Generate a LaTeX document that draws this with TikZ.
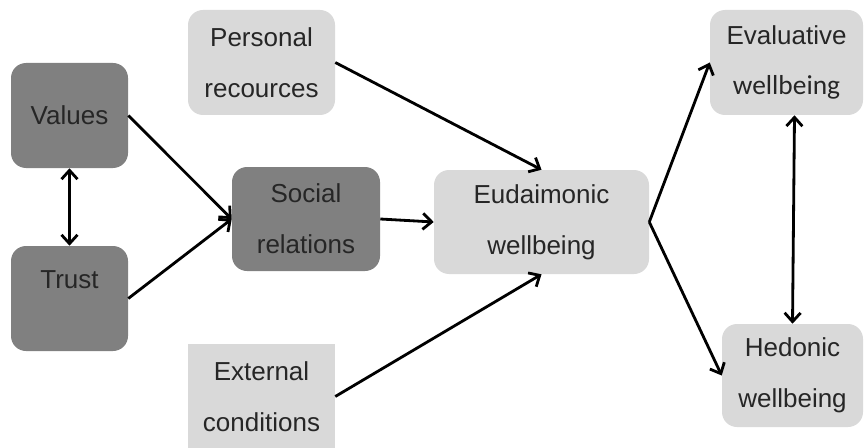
\documentclass[tikz,border=0pt]{standalone}
\usepackage{fontspec}
\setmainfont{Liberation Sans}
\newfontfamily\calfont{Carlito}
\usepackage{tikz}
\usetikzlibrary{arrows.meta}

\begin{document}
\begin{tikzpicture}
    \tikzstyle{dedge}  = [line width=2pt,-{Straight Barb[length=2.2mm,width=4mm]},draw=black]
    \tikzstyle{bedge}  = [line width=2pt,{Straight Barb[length=2.2mm,width=4mm]}-{Straight Barb[length=2.2mm,width=4mm]},draw=black]
    \tikzstyle{box}=[
      rectangle,
      rounded corners=0.375cm,
      anchor=center,
      align=center,
      text=black!85,
      font=\fontsize{18.5}{36}\selectfont,
      minimum height=2.625cm,
    ]
    \tikzstyle{dark}=[
      box,
      fill=black!50,
    ]
    \tikzstyle{light}=[
      box,
      fill=black!15,
    ]

    \useasboundingbox (0,0) rectangle (21.6,-11.175);
    \coordinate (origin) at (0,0);

    % left column
    {
      \node[dark, minimum width=2.925cm] (values) at ([xshift=1.7375cm, yshift=-2.8875cm] origin) {Values};
      \node[dark, minimum width=2.925cm] (trust) at ([xshift=1.7375cm, yshift=-7.4625cm] origin) {Trust\\[-0.7cm]\strut};

      \node[light, minimum width=3.675cm] (personal) at ([xshift=6.5375cm, yshift=-1.5625cm] origin) {Personal\\recources};
      \node[dark, minimum width=3.7cm, minimum height=2.6cm] (social) at ([xshift=7.65cm, yshift=-5.475cm] origin) {Social\\relations};
      \node[light, rounded corners=0pt, minimum width=3.675cm] (external) at ([xshift=6.5375cm, yshift=-9.9125cm] origin) {External\\conditions};

      \node[light, minimum width=5.375cm, minimum height=2.6cm] (eudaimonic) at ([xshift=13.5375cm, yshift=-5.55cm] origin) {Eudaimonic\\wellbeing};

      \node[light, minimum width=3.825cm] (evaluative) at ([xshift=19.6625cm, yshift=-1.5625cm] origin) {Evaluative\\{\calfont\fontsize{19.5}{36}\selectfont wellbeing}};
      \node[light, minimum width=3.525cm, minimum height=2.575cm] (hedonic) at ([xshift=19.8125cm, yshift=-9.3875cm] origin) {Hedonic\\wellbeing};

      \draw[bedge] (values.south)--(trust.north);
      \draw[dedge] (values.east)--(social.west);
      \draw[dedge] (trust.east)--(social.west);

      \draw[dedge] (personal.east)--(eudaimonic.north);
      \draw[dedge] (social.east)--(eudaimonic.west);
      \draw[dedge] (external.east)--(eudaimonic.south);

      \draw[dedge] (eudaimonic.east)--(evaluative.west);
      \draw[dedge] (eudaimonic.east)--(hedonic.west);
      \draw[bedge] ([xshift=0.2cm]evaluative.south)--(hedonic.north);
    }
\end{tikzpicture}
\end{document}
